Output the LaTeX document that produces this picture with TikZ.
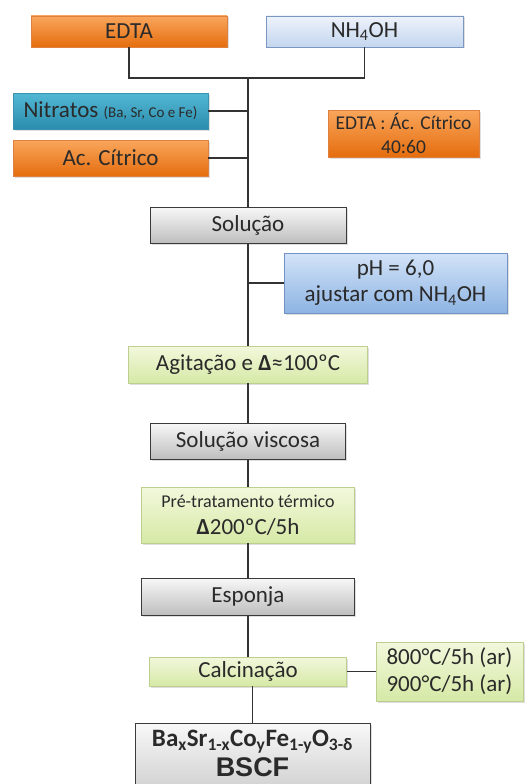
\documentclass[tikz,border=0pt]{standalone}
\usepackage{fontspec}
\setmainfont{Carlito}
\newfontfamily\arialfont{Liberation Sans}
\usetikzlibrary{shadows}
\definecolor{ink}{HTML}{2A2A2A}
\definecolor{lineC}{HTML}{333333}
\definecolor{orT}{HTML}{F9A65C}
\definecolor{orB}{HTML}{E56D0E}
\definecolor{orD}{HTML}{DE8040}
\definecolor{tlT}{HTML}{52B8D4}
\definecolor{tlB}{HTML}{2B8CAD}
\definecolor{tlD}{HTML}{3A93B0}
\definecolor{lbT}{HTML}{EEF3FB}
\definecolor{lbB}{HTML}{C3D5EE}
\definecolor{lbD}{HTML}{7B96C0}
\definecolor{blT}{HTML}{D3E3F8}
\definecolor{blB}{HTML}{8DB4E3}
\definecolor{blD}{HTML}{7393C4}
\definecolor{gyT}{HTML}{F8F8F8}
\definecolor{gyB}{HTML}{BEBEBE}
\definecolor{gyD}{HTML}{3A3A3A}
\definecolor{gnT}{HTML}{F2F8DC}
\definecolor{gnB}{HTML}{D6E9A6}
\definecolor{gnD}{HTML}{BCCF8E}
\tikzset{
  box/.style={rectangle, inner sep=0pt, align=center, text=ink,
    font=\fontsize{23}{26}\selectfont, line width=0.7pt,
    drop shadow={opacity=0.25, shadow xshift=1.5pt, shadow yshift=-1.5pt}},
  orbox/.style={box, top color=orT, bottom color=orB, draw=orD},
  tlbox/.style={box, top color=tlT, bottom color=tlB, draw=tlD},
  lbbox/.style={box, top color=lbT, bottom color=lbB, draw=lbD},
  blbox/.style={box, top color=blT, bottom color=blB, draw=blD},
  gybox/.style={box, top color=gyT, bottom color=gyB, draw=gyD, line width=0.9pt},
  gnbox/.style={box, top color=gnT, bottom color=gnB, draw=gnD},
  conn/.style={draw=lineC, line width=1.1pt}
}
\begin{document}
\begin{tikzpicture}[x=1pt,y=-1pt]
\useasboundingbox (0,0) rectangle (529,784);
\clip (0,0) rectangle (529,784);
\fill[white] (0,0) rectangle (529,784);

\node[orbox, minimum width=196pt, minimum height=31pt] (edta) at (129,31.5) {EDTA};
\node[lbbox, minimum width=197pt, minimum height=31pt] (nh) at (364.5,31.5) {NH\textsubscript{4}OH};
\coordinate (j) at (248,78);
\node[tlbox, minimum width=195pt, minimum height=36pt] (nit) at (110.5,111) {Nitratos {\fontsize{15}{16}\selectfont (Ba, Sr, Co e Fe)}};
\node[orbox, minimum width=195pt, minimum height=36pt] (ac) at (110.5,158) {Ac. Cítrico};
\node[orbox, minimum width=151pt, minimum height=47pt, font=\fontsize{19.5}{24}\selectfont] (ratio) at (403.5,133.5) {EDTA : Ác. Cítrico\\40:60};
\node[gybox, minimum width=196pt, minimum height=36pt] (sol) at (248,225) {Solução};
\node[blbox, minimum width=223pt, minimum height=60pt] (ph) at (395.5,283) {pH = 6,0\\ajustar com NH\textsubscript{4}OH};
\node[gnbox, minimum width=239pt, minimum height=37pt] (agi) at (248,364.5) {Agitação e \textbf{Δ}≈100ºC};
\node[gybox, minimum width=195pt, minimum height=36pt] (visc) at (248,441) {Solução viscosa};
\node[gnbox, minimum width=213pt, minimum height=56pt, font=\fontsize{23}{27}\selectfont] (pre) at (248,515) {{\fontsize{18}{20}\selectfont Pré-tratamento térmico}\\\textbf{Δ}200ºC/5h};
\node[gybox, minimum width=213pt, minimum height=37pt] (esp) at (248,596.5) {Esponja};
\node[gnbox, minimum width=197pt, minimum height=29pt] (cal) at (248,671.5) {Calcinação};
\node[gnbox, minimum width=147pt, minimum height=59pt, font=\fontsize{23}{27}\selectfont] (temp) at (449.5,671.5) {800°C/5h (ar)\\900°C/5h (ar)};
\node[gybox, anchor=north, minimum width=235pt, minimum height=98pt, font=\fontsize{25}{30}\selectfont\bfseries] (bscf) at (252.5,723)
  {Ba\textsubscript{x}Sr\textsubscript{1-x}Co\textsubscript{y}Fe\textsubscript{1-y}O\textsubscript{3-δ}\\{\arialfont\fontsize{27}{31}\selectfont BSCF}\\[8pt]};

\draw[conn] (edta.south) |- (j);
\draw[conn] (nh.south) |- (j);
\draw[conn] (j) -- (sol.north);
\draw[conn] (nit.east) -- (nit.east -| j);
\draw[conn] (ac.east) -- (ac.east -| j);
\draw[conn] (sol.south) -- (agi.north);
\draw[conn] (ph.west) -- (ph.west -| sol.south);
\draw[conn] (agi.south) -- (visc.north);
\draw[conn] (visc.south) -- (pre.north);
\draw[conn] (pre.south) -- (esp.north);
\draw[conn] (esp.south) -- (cal.north);
\draw[conn] (cal.east) -- (temp.west);
\draw[conn] (bscf.north) -- (bscf.north |- cal.south);
\end{tikzpicture}
\end{document}
